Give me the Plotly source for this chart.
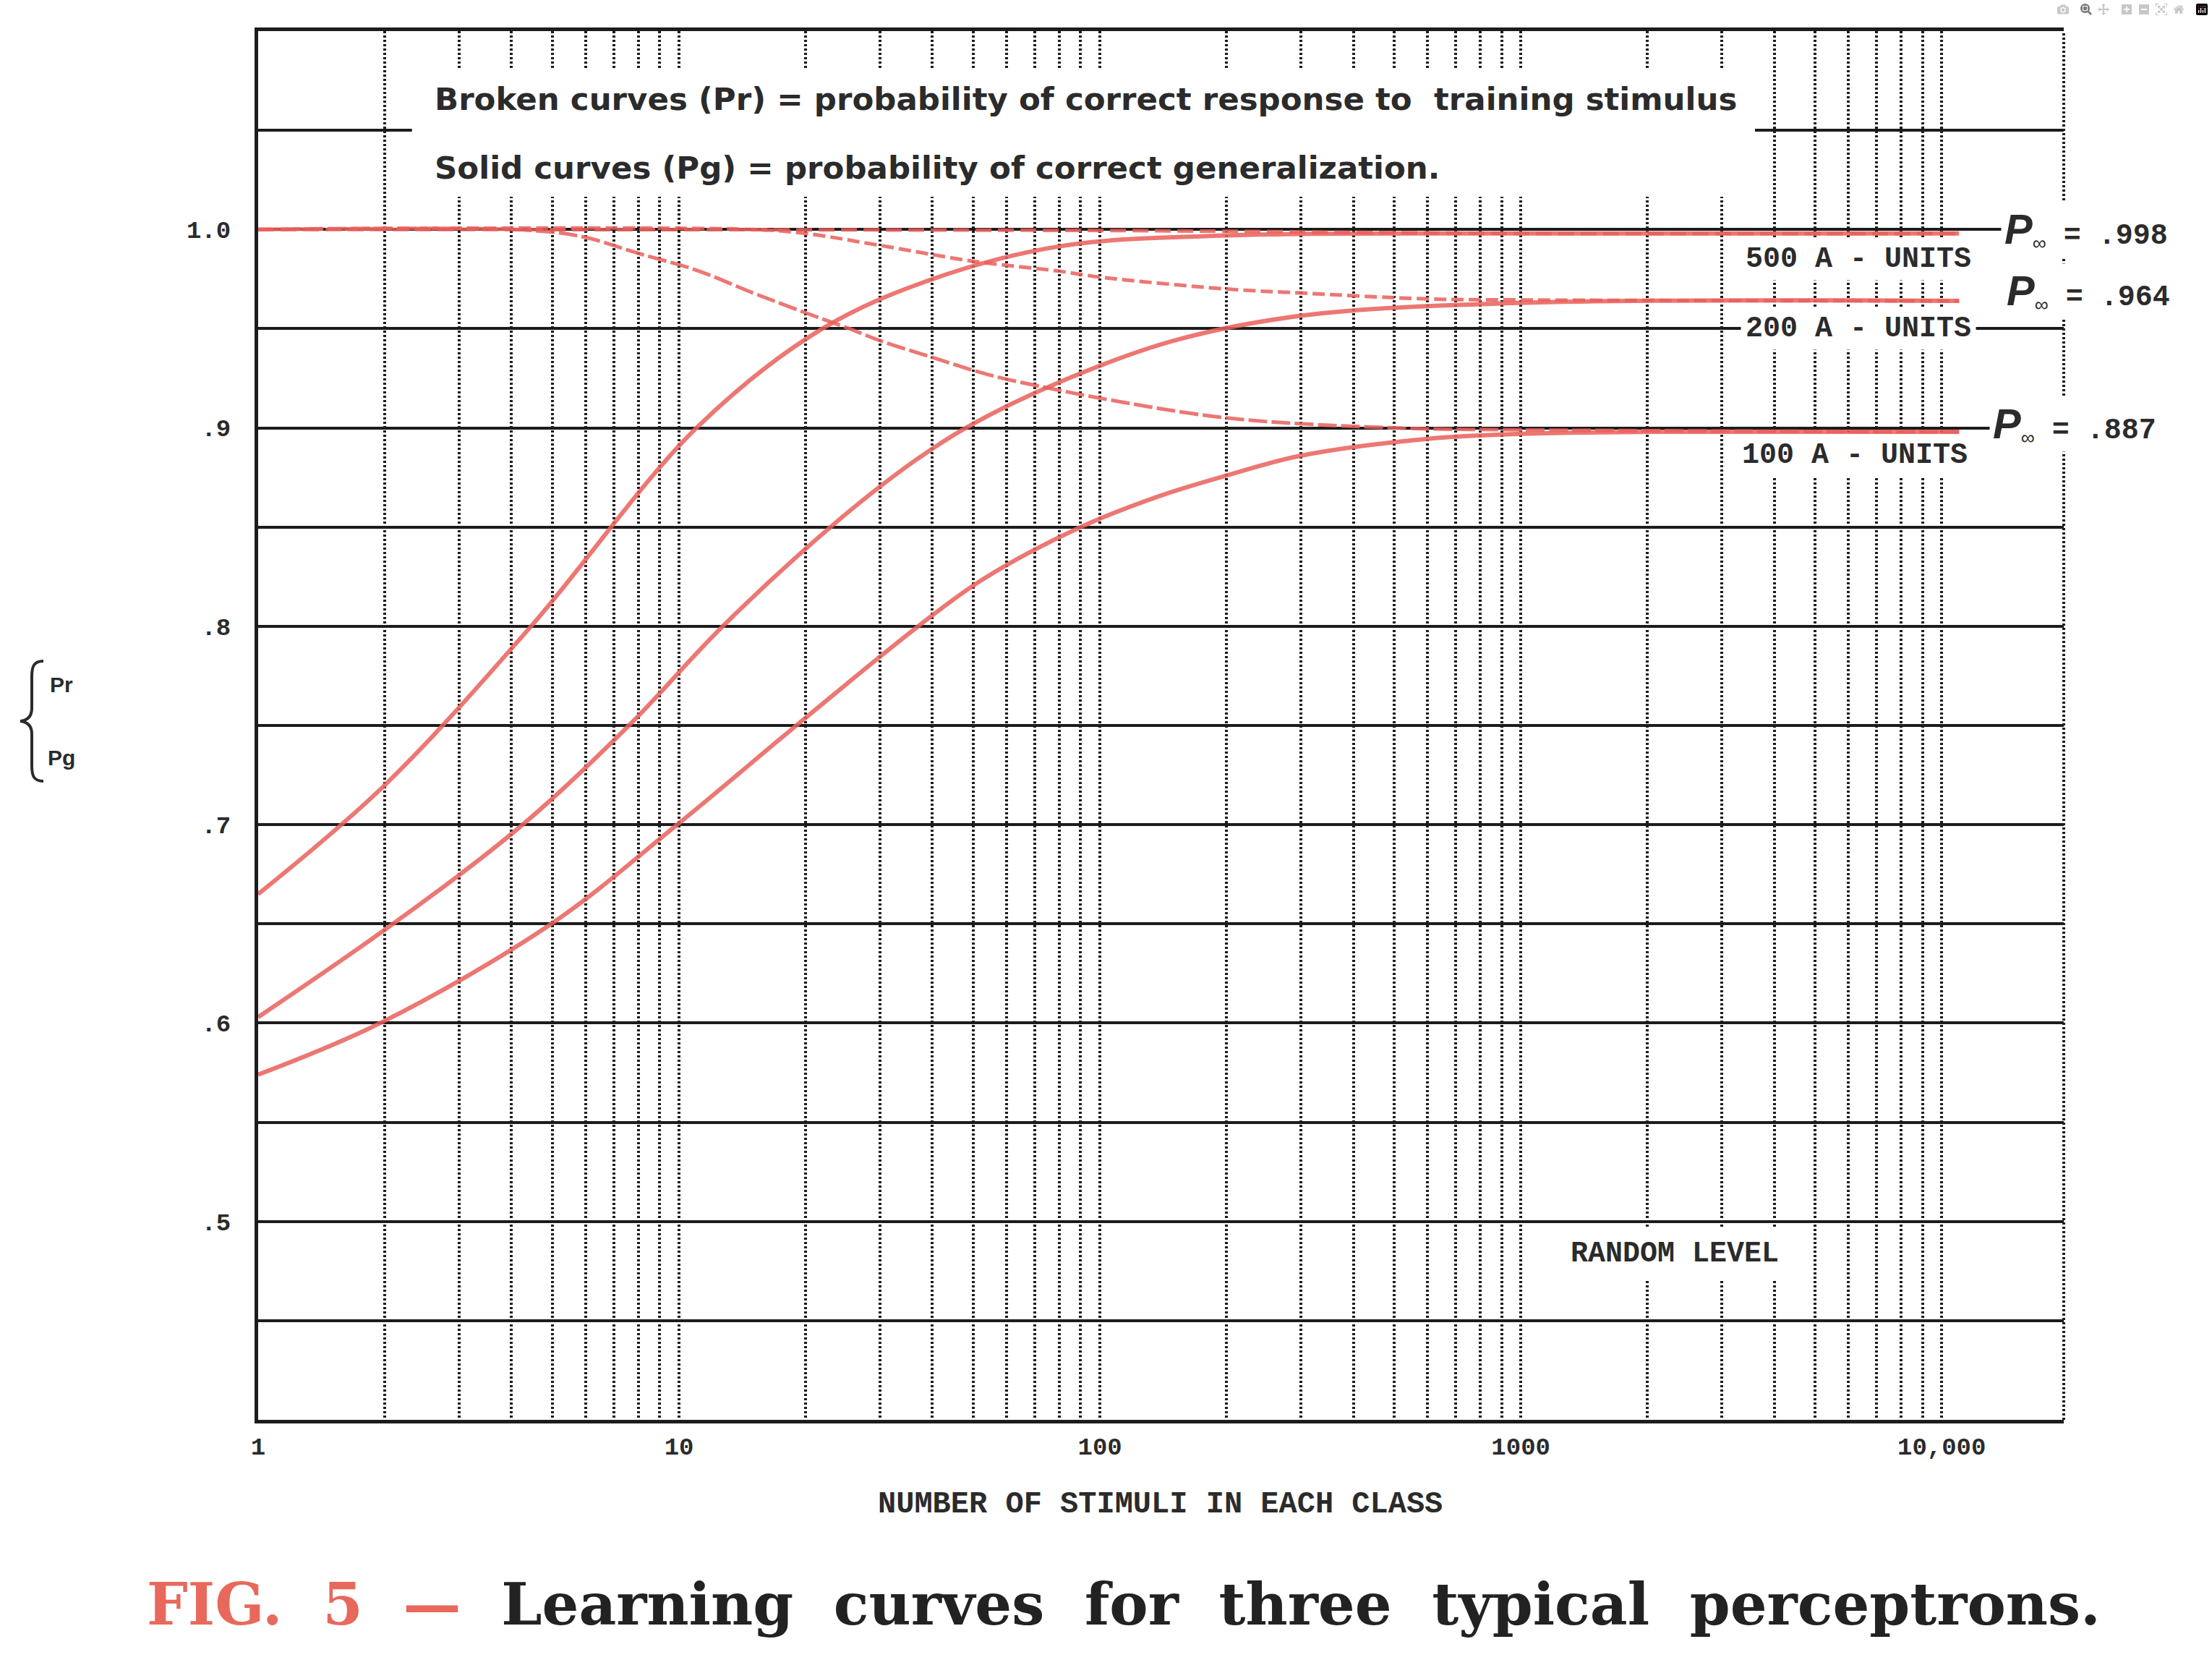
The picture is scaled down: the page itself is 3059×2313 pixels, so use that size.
import math
import plotly.graph_objects as go

# ---------------- data ----------------
# Solid curves: Pg = probability of correct generalization
pg500_x = [1, 2, 4.45, 11, 21.9, 40, 80, 200, 1000, 11000]
pg500_y = [0.665, 0.72, 0.80, 0.90, 0.95, 0.975, 0.9915, 0.997, 0.998, 0.998]

pg200_x = [1, 2.09, 4.25, 7.6, 12.7, 22.9, 35, 48, 80, 150, 300, 1000, 11000]
pg200_y = [0.603, 0.65, 0.70, 0.75, 0.80, 0.85, 0.881, 0.90, 0.923, 0.944, 0.9565, 0.963, 0.964]

pg100_x = [1, 1.95, 4.97, 9.9, 19, 37, 53, 90, 140, 200, 300, 600, 1000, 2000, 11000]
pg100_y = [0.574, 0.60, 0.65, 0.70, 0.75, 0.80, 0.824, 0.85, 0.866, 0.876, 0.886, 0.8945, 0.897, 0.898, 0.898]

# Broken curves: Pr = probability of correct response to training stimulus
pr500_x = [1, 100, 1000, 11000]
pr500_y = [1.0, 0.9995, 0.998, 0.998]

pr200_x = [1, 15, 20, 30, 50, 80, 100, 200, 300, 600, 1000, 11000]
pr200_y = [1.0, 1.0, 0.998, 0.992, 0.984, 0.979, 0.976, 0.970, 0.968, 0.965, 0.9645, 0.964]

pr100_x = [1, 4.5, 6, 8, 11, 15, 20, 25.4, 30, 40, 55, 80, 100, 200, 500, 1000, 11000]
pr100_y = [1.0, 0.9995, 0.996, 0.988, 0.9795, 0.968, 0.958, 0.95, 0.944, 0.9355, 0.9265, 0.919, 0.915, 0.905, 0.900, 0.899, 0.898]

x_decades = [1, 10, 100, 1000, 10000]
x_decade_labels = ["1", "10", "100", "1000", "10,000"]
y_grid = [0.45, 0.50, 0.55, 0.60, 0.65, 0.70, 0.75, 0.80, 0.85, 0.90, 0.95, 1.00, 1.05]
y_labels = {0.5: ".5", 0.6: ".6", 0.7: ".7", 0.8: ".8", 0.9: ".9", 1.0: "1.0"}

unit_labels = ["500 A - UNITS", "200 A - UNITS", "100 A - UNITS"]
p_inf_values = [".998", ".964", ".887"]

# ---------------- styling ----------------
RED = "rgba(233,95,90,0.85)"
INK = "#1c1c1c"
TXT = "#2b2b2b"
W, H = 3059, 2313
ML, MR, MT, MB = 357, 205, 43, 350

fig = go.Figure()

for xs, ys in [(pg500_x, pg500_y), (pg200_x, pg200_y), (pg100_x, pg100_y)]:
    fig.add_trace(go.Scatter(x=xs, y=ys, mode="lines",
                             line=dict(color=RED, width=6, shape="spline", smoothing=1.0),
                             hoverinfo="skip"))
for (xs, ys), dash in zip([(pr500_x, pr500_y), (pr200_x, pr200_y), (pr100_x, pr100_y)],
                          ["22px,9px", "17px,7px", "26px,6px"]):
    fig.add_trace(go.Scatter(x=xs, y=ys, mode="lines",
                             line=dict(color=RED, width=5, shape="spline", smoothing=1.0, dash=dash),
                             hoverinfo="skip"))

x_minor = [m * 10 ** k for k in range(4) for m in range(2, 10)]
x_tickvals = sorted(x_decades + x_minor)
x_ticktext = [x_decade_labels[x_decades.index(v)] if v in x_decades else "" for v in x_tickvals]

y_ticktext = [y_labels.get(round(v, 2), "") for v in y_grid]

fig.update_xaxes(
    type="log", range=[0, 4.29],
    tickmode="array", tickvals=x_tickvals, ticktext=x_ticktext,
    showgrid=True, gridcolor=INK, gridwidth=4, griddash="3px,3px",
    showline=True, linecolor=INK, linewidth=5, mirror=True,
    ticks="", zeroline=False, ticklabelstandoff=2,
    tickfont=dict(family="Liberation Mono", size=34, color=TXT, weight="bold"),
)
fig.update_yaxes(
    range=[0.4, 1.1],
    tickmode="array", tickvals=y_grid, ticktext=y_ticktext,
    showgrid=True, gridcolor=INK, gridwidth=4,
    showline=True, linecolor=INK, linewidth=5, mirror=False,
    ticks="", zeroline=False, ticklabelstandoff=26,
    tickfont=dict(family="Liberation Mono", size=34, color=TXT, weight="bold"),
)

shapes = []
# white area behind the explanatory text at the top of the grid (data values on log axis)
shapes.append(dict(type="rect", xref="x", yref="y",
                   x0=2.32, x1=3600, y0=1.0165, y1=1.081,
                   fillcolor="white", line=dict(width=0), layer="above"))
# right border (dotted like the grid)
shapes.append(dict(type="line", xref="paper", yref="paper", x0=1, x1=1, y0=0, y1=1,
                   line=dict(color=INK, width=4, dash="3px,3px"), layer="below"))
# brace of the y label
shapes.append(dict(type="path", xref="paper", yref="paper",
                   xsizemode="pixel", ysizemode="pixel",
                   xanchor=(44 - ML) / (W - ML - MR), yanchor=(H - MB - 997) / (H - MT - MB),
                   path="M 16,83 C 3,83 0,76 0,62 L 0,18 C 0,6 -6,1 -16,0 C -6,-1 0,-6 0,-18 "
                        "L 0,-62 C 0,-76 3,-83 16,-83",
                   line=dict(color=TXT, width=4)))
fig.update_layout(shapes=shapes)

PW, PH = W - ML - MR, H - MT - MB
def px(xpix):
    return (xpix - ML) / PW
def py(ypix):
    return (H - MB - ypix) / PH

ann = []
SANS = "DejaVu Sans"
MONO = "Liberation Mono"
NB = "\u00a0"
ann.append(dict(xref="paper", yref="paper", x=px(599), y=py(137), xanchor="left", yanchor="middle",
                text="<b>Broken curves (Pr) = probability of correct response to " + NB + "training stimulus</b>",
                showarrow=False, font=dict(family=SANS, size=43.5, color=TXT)))
ann.append(dict(xref="paper", yref="paper", x=px(599), y=py(232), xanchor="left", yanchor="middle",
                text="<b>Solid curves (Pg) = probability of correct generalization.</b>",
                showarrow=False, font=dict(family=SANS, size=43.5, color=TXT)))

unit_pos = [(3.802, 0.985), (3.802, 0.950), (3.794, 0.886)]
for (ux, uy), lab in zip(unit_pos, unit_labels):
    ann.append(dict(xref="x", yref="y", x=ux, y=uy, xanchor="center", yanchor="middle",
                    text="<b>" + lab + "</b>", showarrow=False,
                    font=dict(family=MONO, size=40, color=TXT), bgcolor="white", borderpad=6))

ann.append(dict(xref="x", yref="y", x=3.366, y=0.4835, xanchor="center", yanchor="middle",
                text="<b>RANDOM LEVEL</b>", showarrow=False,
                font=dict(family=MONO, size=40, color=TXT), bgcolor="white", borderpad=12))

p_pos = [(2767, 318), (2770, 402), (2751, 586)]
for (lx, ly), val in zip(p_pos, p_inf_values):
    ann.append(dict(xref="paper", yref="paper", x=px(lx), y=py(ly), xanchor="left", yanchor="middle",
                    text="<i><b><span style='font-size:58px'>P</span></b></i><sub>\u221e</sub>"
                         "<span style='font-family:Liberation Mono;font-size:40px'><b>"
                         + NB + "=" + NB + val + "</b></span>",
                    showarrow=False, font=dict(family="Liberation Sans", size=38, color=TXT),
                    bgcolor="white", borderpad=4))

ann.append(dict(xref="paper", yref="paper", x=px(1604), y=py(2080), xanchor="center", yanchor="middle",
                text="<b>NUMBER OF STIMULI IN EACH CLASS</b>", showarrow=False,
                font=dict(family=MONO, size=42, color=TXT)))

ann.append(dict(xref="paper", yref="paper", x=px(85), y=py(946), xanchor="center", yanchor="middle",
                text="<b>Pr</b>", showarrow=False,
                font=dict(family="Liberation Sans", size=30, color=TXT)))
ann.append(dict(xref="paper", yref="paper", x=px(85), y=py(1047), xanchor="center", yanchor="middle",
                text="<b>Pg</b>", showarrow=False,
                font=dict(family="Liberation Sans", size=30, color=TXT)))

sp = NB + NB
caption = ("<b><span style='color:#e8685c'>FIG." + sp + "5" + sp + "\u2014</span>" + sp +
           "Learning" + sp + "curves" + sp + "for" + sp + "three" + sp + "typical" + sp +
           "perceptrons.</b>")
ann.append(dict(xref="paper", yref="paper", x=px(1554), y=py(2218), xanchor="center", yanchor="middle",
                text=caption, showarrow=False,
                font=dict(family="DejaVu Serif", size=80, color="#222222")))

fig.update_layout(
    width=W, height=H, autosize=False,
    margin=dict(l=ML, r=MR, t=MT, b=MB, pad=0),
    paper_bgcolor="white", plot_bgcolor="white",
    showlegend=False, annotations=ann,
)

fig.write_html("out.html", post_script="document.body.style.margin='0px';")
